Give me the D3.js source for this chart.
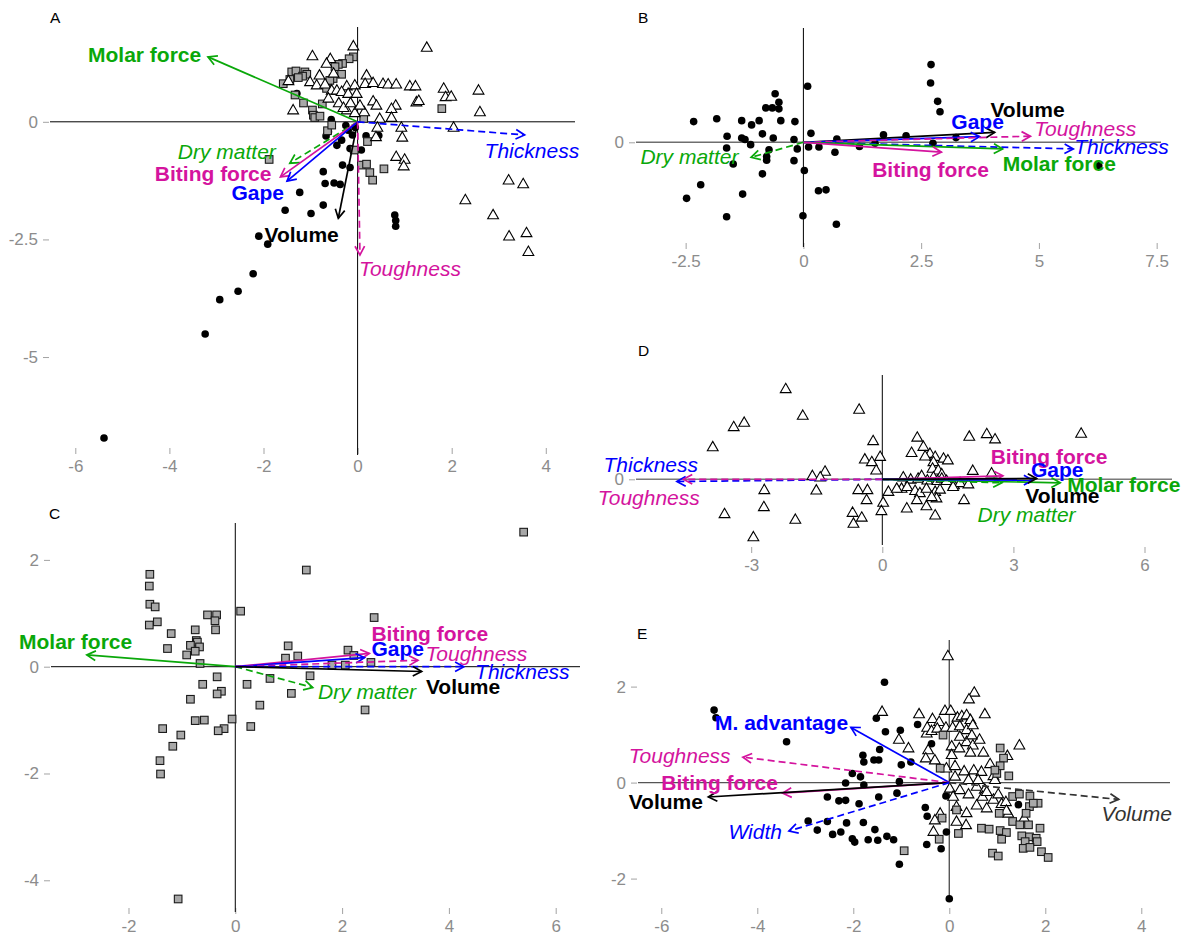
<!DOCTYPE html>
<html><head><meta charset="utf-8">
<script src="https://cdn.jsdelivr.net/npm/d3@7"></script>
<style>
body{margin:0;background:#fff}
svg{display:block}
text{font-family:"Liberation Sans",Arial,Helvetica,sans-serif}
</style>
</head><body>
<svg id="chart" width="1189" height="939"></svg>
<script>
// ---------------- DATA ----------------
// Panel A
const A_circles = [[-5.39,-6.72],[-3.24,-4.51],[-2.93,-3.78],[-2.54,-3.60],[-2.22,-3.23],[-2.10,-2.43],[-1.91,-2.60],[-1.54,-1.88],[-0.99,-1.95],[-0.73,-1.77],[-1.23,-1.50],[-0.73,-1.06],[-0.69,-1.31],[-0.50,-1.30],[-0.37,-1.33],[-0.32,-0.92],[-0.16,-0.97],[-0.44,-0.50],[-0.34,-0.39],[-0.67,-0.30],[-0.62,-0.21],[-0.20,-0.18],[-0.11,-0.28],[-0.16,-0.57],[-0.04,-0.60],[0.08,-0.60],[0.18,-0.30],[0.45,-0.29],[-0.56,0.05],[-1.29,0.60],[0.79,-1.98],[0.81,-2.10],[0.81,-2.22],[-0.05,-0.12],[-0.25,-0.08]];
const A_squares = [[-0.09,1.38],[-0.18,1.34],[-0.32,1.24],[-0.41,1.22],[-0.48,1.17],[-0.34,1.01],[-0.52,0.92],[-1.40,1.06],[-1.31,1.08],[-1.12,1.06],[-1.08,1.01],[-1.17,0.97],[-1.58,0.81],[-1.44,0.90],[-1.26,0.94],[-1.33,0.57],[-1.15,0.40],[-0.96,0.25],[-0.94,0.14],[-0.91,0.09],[-0.80,0.12],[-0.75,0.38],[-0.64,-0.19],[-0.55,-0.07],[0.13,0.07],[0.21,-0.42],[-0.07,-0.60],[0.08,-0.92],[0.19,-0.90],[0.26,-1.08],[0.32,-1.24],[0.56,-1.00],[1.79,0.28],[-1.88,-0.80],[-0.66,0.71],[-0.59,0.88]];
const A_triangles = [[-0.09,1.61],[-0.96,1.40],[-0.58,1.34],[-0.66,1.24],[-0.51,1.03],[-0.81,0.99],[-1.47,0.87],[-1.01,0.85],[-0.87,0.78],[-0.69,0.80],[-0.23,0.76],[-0.06,0.78],[-0.55,0.67],[-0.44,0.67],[-0.34,0.64],[-0.20,0.60],[-0.02,0.60],[0.19,0.99],[0.16,0.81],[0.33,0.83],[0.54,0.81],[0.65,0.80],[0.82,0.80],[1.11,0.76],[1.23,0.76],[-0.62,0.50],[0.33,0.44],[0.40,0.35],[0.81,0.35],[0.72,0.28],[1.25,0.42],[1.30,0.45],[-1.37,0.25],[-0.23,0.25],[0.14,0.21],[-0.06,0.19],[0.47,0.07],[0.72,0.09],[0.42,-0.12],[0.39,-0.32],[0.93,-0.12],[0.95,-0.33],[0.82,-0.74],[1.00,-0.80],[0.98,-0.94],[1.83,0.71],[1.87,0.53],[1.99,0.54],[2.57,0.67],[2.60,0.21],[1.47,1.58],[2.04,-0.12],[2.29,-1.66],[2.88,-1.98],[3.21,-1.24],[3.52,-1.32],[3.22,-2.43],[3.59,-2.36],[3.63,-2.76],[-0.40,0.40],[-0.30,0.30],[-0.15,0.40],[0.05,0.35]];
// arrows: name, group, type (morph = solid/bold, food = dashed/italic), tip x,y, label anchor lx,ly (data units)
const A_arrows = [
  {name:"Molar force", group:"molar", type:"morph", x:-3.18, y:1.38, lx:-5.73, ly:1.42},
  {name:"Dry matter", group:"molar", type:"food", x:-1.44, y:-0.88, lx:-3.82, ly:-0.64},
  {name:"Biting force", group:"biting", type:"morph", x:-1.64, y:-1.17, lx:-4.31, ly:-1.11},
  {name:"Gape", group:"gape", type:"morph", x:-1.50, y:-1.26, lx:-2.68, ly:-1.51},
  {name:"Volume", group:"volume", type:"morph", x:-0.41, y:-2.05, lx:-1.98, ly:-2.39},
  {name:"Toughness", group:"biting", type:"food", x:0.05, y:-2.83, lx:0.03, ly:-3.13},
  {name:"Thickness", group:"gape", type:"food", x:3.55, y:-0.28, lx:2.70, ly:-0.61}
];
const A_xTicks = [-6,-4,-2,0,2,4];
const A_yTicks = [0,-2.5,-5];

// Panel B
const B_circles = [[-2.33,0.44],[-1.84,0.50],[-1.62,0.13],[-1.63,-0.12],[-1.49,-0.46],[-2.18,-0.90],[-2.48,-1.19],[-1.63,-1.58],[-1.29,-1.10],[-1.31,0.46],[-1.10,0.37],[-0.94,0.46],[-1.31,0.09],[-1.24,0.06],[-1.12,-0.05],[-0.87,0.18],[-0.64,0.09],[-0.73,-0.16],[-0.78,-0.30],[-0.78,-0.38],[-0.87,-0.67],[-0.80,0.73],[-0.66,0.73],[-0.52,0.71],[-0.52,0.85],[-0.60,1.03],[-0.48,0.46],[-0.18,0.44],[-0.20,0.06],[-0.13,-0.14],[-0.20,-0.39],[0.02,-0.60],[0.09,1.19],[0.16,0.19],[0.11,-0.10],[0.33,-0.10],[0.67,-0.21],[0.71,0.07],[0.32,-1.03],[0.48,-1.01],[-0.01,-1.56],[0.70,-1.74],[1.19,-0.09],[1.70,0.16],[2.18,0.14],[2.71,1.65],[2.70,1.26],[2.85,0.87],[2.90,0.65],[2.75,-0.02],[3.24,0.10],[1.52,-0.02],[6.27,-0.50]];
const B_arrows = [
  {name:"Volume", group:"volume", type:"morph", x:4.06, y:0.21, lx:3.97, ly:0.69},
  {name:"Gape", group:"gape", type:"morph", x:3.74, y:0.12, lx:3.14, ly:0.44},
  {name:"Toughness", group:"biting", type:"food", x:4.82, y:0.13, lx:4.90, ly:0.30},
  {name:"Thickness", group:"gape", type:"food", x:5.73, y:-0.14, lx:5.75, ly:-0.09},
  {name:"Molar force", group:"molar", type:"morph", x:4.23, y:-0.14, lx:4.23, ly:-0.45},
  {name:"Biting force", group:"biting", type:"morph", x:2.93, y:-0.21, lx:1.46, ly:-0.59},
  {name:"Dry matter", group:"molar", type:"food", x:-1.11, y:-0.32, lx:-3.46, ly:-0.31}
];
const B_xTicks = [-2.5,0,2.5,5,7.5];
const B_yTicks = [0];

// Panel C
const C_squares = [[-1.60,1.73],[-1.61,1.51],[-1.60,1.17],[-1.50,1.12],[-1.61,0.78],[-1.46,0.84],[-1.20,0.62],[-1.27,0.34],[-0.91,0.22],[-0.75,0.69],[-0.73,0.49],[-0.71,0.46],[-0.67,0.37],[-0.84,0.40],[-0.75,0.29],[-0.52,0.97],[-0.35,0.97],[-0.38,0.86],[-0.37,0.69],[-0.66,0.06],[-0.34,-0.19],[-0.61,-0.33],[-0.26,-0.46],[-0.34,-0.51],[-0.84,-0.61],[-0.75,-1.01],[-0.58,-1.00],[-0.06,-0.98],[-0.21,-1.16],[-0.32,-1.20],[-1.36,-1.16],[-1.02,-1.28],[-1.17,-1.49],[-1.41,-1.76],[-1.40,-2.01],[-1.07,-4.35],[0.10,1.04],[0.22,-0.33],[0.46,-0.72],[0.29,-1.12],[0.65,-0.22],[0.99,0.39],[0.94,0.16],[1.17,0.20],[1.40,-0.17],[1.05,-0.50],[1.33,1.81],[5.40,2.52],[2.60,0.92],[2.11,0.31],[2.43,-0.81],[1.81,0.03],[2.06,0.03],[2.54,0.08],[2.22,0.21]];
const C_arrows = [
  {name:"Molar force", group:"molar", type:"morph", x:-2.78, y:0.22, lx:-4.05, ly:0.47},
  {name:"Dry matter", group:"molar", type:"food", x:1.45, y:-0.39, lx:1.55, ly:-0.47},
  {name:"Biting force", group:"biting", type:"morph", x:2.51, y:0.25, lx:2.55, ly:0.61},
  {name:"Gape", group:"gape", type:"morph", x:2.42, y:0.17, lx:2.55, ly:0.33},
  {name:"Toughness", group:"biting", type:"food", x:3.42, y:0.12, lx:3.56, ly:0.24},
  {name:"Thickness", group:"gape", type:"food", x:4.28, y:0.0, lx:4.49, ly:-0.09},
  {name:"Volume", group:"volume", type:"morph", x:3.49, y:-0.09, lx:3.57, ly:-0.37}
];
const C_xTicks = [-2,0,2,4,6];
const C_yTicks = [2,0,-2,-4];

// Panel D
const D_triangles = [[-2.21,2.07],[-1.82,1.46],[-3.40,1.20],[-3.16,1.30],[-3.88,0.74],[-0.53,1.60],[4.55,1.05],[-1.60,0.08],[-1.31,0.18],[-1.42,0.05],[-2.70,-0.24],[-2.71,-0.63],[-1.51,-0.25],[-3.61,-0.79],[-1.99,-0.92],[-2.95,-1.32],[-0.68,-0.76],[-0.66,-1.01],[-0.21,0.88],[-0.40,0.46],[-0.24,0.40],[-0.05,0.52],[-0.14,0.21],[-0.55,-0.24],[-0.34,-0.24],[-0.36,-0.47],[-0.47,-0.87],[0.14,-0.28],[0.02,-0.53],[-0.02,-0.72],[0.80,0.96],[0.94,0.75],[0.67,0.61],[1.09,0.59],[1.21,0.52],[0.98,0.53],[1.40,0.48],[1.50,0.44],[1.17,0.40],[1.15,0.25],[1.28,0.21],[1.36,0.12],[1.99,0.98],[2.39,1.04],[2.58,0.92],[2.07,0.20],[2.50,0.14],[0.48,0.05],[0.65,0.0],[0.82,0.02],[0.90,0.08],[1.03,-0.02],[1.17,0.05],[1.26,-0.03],[1.36,0.02],[1.47,-0.03],[1.64,-0.13],[1.78,-0.08],[1.97,-0.11],[0.44,-0.21],[0.57,-0.17],[0.75,-0.26],[0.86,-0.31],[1.01,-0.21],[1.21,-0.28],[1.32,-0.23],[1.62,-0.17],[1.87,-0.47],[0.56,-0.66],[0.79,-0.47],[1.01,-0.61],[1.21,-0.82],[1.24,-0.43],[1.13,-0.40],[0.33,-0.21]];
const D_arrows = [
  {name:"Thickness", group:"gape", type:"food", x:-4.70, y:-0.05, lx:-6.38, ly:0.33},
  {name:"Toughness", group:"biting", type:"food", x:-4.55, y:0.0, lx:-6.51, ly:-0.43},
  {name:"Dry matter", group:"molar", type:"food", x:2.74, y:-0.08, lx:2.18, ly:-0.80},
  {name:"Biting force", group:"biting", type:"morph", x:2.76, y:0.08, lx:2.48, ly:0.53},
  {name:"Molar force", group:"molar", type:"morph", x:4.07, y:-0.08, lx:4.23, ly:-0.13},
  {name:"Gape", group:"gape", type:"morph", x:3.44, y:-0.02, lx:3.40, ly:0.21},
  {name:"Volume", group:"volume", type:"morph", x:3.53, y:0.02, lx:3.27, ly:-0.38}
];
const D_xTicks = [-3,0,3,6];
const D_yTicks = [0];

// Panel E
const E_circles = [[-1.35,2.09],[-1.52,1.34],[-1.33,1.06],[-1.02,1.09],[-0.66,1.21],[-1.45,0.69],[-1.80,0.57],[-1.78,0.43],[-1.57,0.47],[-1.47,0.47],[-1.00,0.37],[-0.80,0.43],[-0.37,0.81],[-2.02,0.19],[-1.85,0.12],[-2.16,-0.01],[-1.78,-0.05],[-1.04,0.02],[-1.09,-0.22],[-1.47,-0.30],[-1.88,-0.44],[-2.54,-0.30],[-2.30,-0.38],[-2.16,-0.37],[-2.54,-0.81],[-2.14,-0.84],[-1.79,-0.83],[-1.55,-0.98],[-2.43,-1.08],[-2.26,-1.03],[-2.02,-1.17],[-1.97,-1.24],[-1.69,-1.19],[-1.49,-1.20],[-1.30,-1.12],[-1.16,-1.19],[-1.04,-1.70],[-0.50,-0.52],[-0.46,-0.70],[-0.47,-1.29],[-0.17,-1.38],[-0.07,-0.28],[-0.06,-1.03],[1.44,-0.46],[-4.90,1.51],[-4.86,1.35],[-3.39,0.85],[-2.94,-0.80],[-2.75,-0.99],[0.0,-2.42]];
const E_triangles = [[-0.03,2.64],[0.52,1.88],[0.41,1.74],[-1.40,1.48],[-1.05,0.90],[-0.85,0.72],[-0.63,1.43],[-0.47,1.03],[-0.35,1.33],[-0.21,1.27],[-0.09,1.50],[0.03,1.50],[0.17,1.36],[0.26,1.39],[0.36,1.41],[0.44,1.31],[0.74,1.43],[-0.46,1.15],[-0.37,1.08],[-0.25,1.13],[-0.07,1.15],[0.07,1.15],[0.22,1.18],[0.36,1.10],[0.49,1.20],[0.05,0.76],[0.21,0.72],[0.36,0.85],[0.49,0.78],[0.63,0.90],[0.44,0.63],[0.71,0.63],[1.46,0.78],[1.21,0.56],[-0.44,0.68],[-0.49,0.51],[-0.30,0.47],[-0.06,0.30],[0.12,0.35],[0.31,0.24],[0.51,0.26],[0.67,0.23],[0.85,0.39],[0.92,0.14],[0.01,-0.12],[0.22,-0.15],[0.08,-0.29],[0.40,-0.24],[0.57,-0.08],[0.74,-0.14],[0.69,-0.29],[0.92,-0.35],[1.09,-0.44],[1.18,-0.40],[0.15,-0.50],[0.36,-0.63],[0.57,-0.47],[0.78,-0.53],[1.23,-0.64],[1.56,-0.74],[-0.19,-0.64],[-0.30,-0.78],[-0.33,-1.02],[0.15,-0.81],[0.35,-0.88],[0.95,0.06],[0.12,0.13],[0.40,0.06],[0.60,0.06],[1.19,-0.58],[0.78,-0.19],[1.02,-0.24],[0.05,0.58],[0.22,0.96],[0.47,0.99]];
const E_squares = [[-0.13,0.99],[-0.19,0.30],[1.06,0.72],[1.13,0.51],[1.06,0.35],[0.99,0.19],[1.24,0.14],[0.95,0.26],[1.32,-0.29],[1.46,-0.24],[1.68,-0.28],[1.85,-0.43],[1.67,-0.50],[1.60,-0.64],[1.04,-0.64],[1.32,-0.81],[0.67,-0.95],[0.83,-0.97],[1.06,-1.00],[1.19,-1.04],[1.09,-1.18],[1.47,-0.88],[1.65,-0.88],[1.89,-0.95],[1.51,-1.11],[1.67,-1.13],[1.81,-1.16],[1.58,-1.23],[1.83,-1.23],[1.54,-1.37],[1.68,-1.35],[0.90,-1.47],[1.02,-1.53],[1.92,-1.44],[2.06,-1.56],[0.19,-1.06],[-0.21,-1.18],[-0.15,-0.74],[-0.94,-1.42],[0.15,-0.57],[1.75,-0.43]];
const E_arrows = [
  {name:"M. advantage", group:"gape", type:"morph", x:-2.05, y:1.15, lx:-4.88, ly:1.24},
  {name:"Toughness", group:"biting", type:"food", x:-4.30, y:0.53, lx:-6.68, ly:0.56},
  {name:"Biting force", group:"biting", type:"morph", x:-3.47, y:-0.22, lx:-6.00, ly:0.0},
  {name:"Volume", group:"volume", type:"morph", x:-5.02, y:-0.30, lx:-6.68, ly:-0.40},
  {name:"Width", group:"gape", type:"food", x:-3.34, y:-1.01, lx:-4.60, ly:-1.02},
  {name:"Volume", group:"volumeFood", type:"food", x:3.53, y:-0.35, lx:3.17, ly:-0.64}
];
const E_xTicks = [-6,-4,-2,0,2,4];
const E_yTicks = [2,0,-2];

// ---------------- STYLE / LAYOUT ----------------
const COLORS = {molar:"#0aa80a", biting:"#d4149e", gape:"#0000ff", volume:"#000000", volumeFood:"#333333"};

const panels = [
  {letter:"A", lp:[50,23], box:{l:50,r:575,t:27,b:455}, xDom:[-6.538,4.621], yDom:[-7.082,2.015], tickTop:448,
   xTicks:A_xTicks, yTicks:A_yTicks, hLine:["#000",1], vLine:["#000",1],
   layers:[["circle",A_circles],["square",A_squares],["triangle",A_triangles]], arrows:A_arrows},
  {letter:"B", lp:[638,23], box:{l:636,r:1161,t:28,b:247}, xDom:[-3.554,7.592], yDom:[-2.223,2.427], tickTop:243,
   xTicks:B_xTicks, yTicks:B_yTicks, hLine:["#6e6e6e",1.6], vLine:["#000",1],
   layers:[["circle",B_circles]], arrows:B_arrows},
  {letter:"C", lp:[49,519], box:{l:51,r:580,t:523,b:912}, xDom:[-3.451,6.455], yDom:[-4.594,2.691], tickTop:908,
   xTicks:C_xTicks, yTicks:C_yTicks, hLine:["#000",1], vLine:["#000",1],
   layers:[["square",C_squares]], arrows:C_arrows},
  {letter:"D", lp:[638,356], box:{l:636,r:1172,t:375,b:545}, xDom:[-5.636,6.629], yDom:[-1.503,2.387], tickTop:547,
   xTicks:D_xTicks, yTicks:D_yTicks, hLine:["#7a7a7a",1.6], vLine:["#000",1],
   layers:[["triangle",D_triangles]], arrows:D_arrows},
  {letter:"E", lp:[637,639], box:{l:638,r:1170,t:640,b:902}, xDom:[-6.485,4.598], yDom:[-2.488,2.971], tickTop:908,
   xTicks:E_xTicks, yTicks:E_yTicks, hLine:["#555",1.4], vLine:["#555",1.4],
   layers:[["circle",E_circles],["triangle",E_triangles],["square",E_squares]], arrows:E_arrows}
];

const svg = d3.select("#chart");
svg.append("rect").attr("width",1189).attr("height",939).attr("fill","#fff");

function drawPanel(P){
  const g = svg.append("g");
  const x = d3.scaleLinear().domain(P.xDom).range([P.box.l, P.box.r]);
  const y = d3.scaleLinear().domain(P.yDom).range([P.box.b, P.box.t]);

  // axes (ticks + labels only)
  const ax = g.append("g").attr("transform",`translate(0,${P.tickTop})`)
    .call(d3.axisBottom(x).tickValues(P.xTicks).tickSize(6).tickPadding(6).tickFormat(d=>String(d)));
  const ay = g.append("g").attr("transform",`translate(${P.box.l-1},0)`)
    .call(d3.axisLeft(y).tickValues(P.yTicks).tickSize(6).tickPadding(5).tickFormat(d=>String(d)));
  [ax,ay].forEach(a=>{
    a.select(".domain").remove();
    a.attr("font-family",null).attr("font-size",null);
    a.selectAll(".tick line").attr("stroke","#a3a3a3").attr("stroke-width",1);
    a.selectAll(".tick text").attr("fill","#8c8c8c").style("font-size","17px")
      .style("font-family",'"Liberation Sans",Arial,sans-serif');
  });

  // zero lines
  g.append("line").attr("x1",P.box.l).attr("x2",P.box.r).attr("y1",y(0)).attr("y2",y(0))
    .attr("stroke",P.hLine[0]).attr("stroke-width",P.hLine[1]);
  g.append("line").attr("x1",x(0)).attr("x2",x(0)).attr("y1",P.box.t).attr("y2",P.box.b)
    .attr("stroke",P.vLine[0]).attr("stroke-width",P.vLine[1]);

  // points
  P.layers.forEach(([shape,data])=>{
    const lg = g.append("g");
    if(shape==="circle"){
      lg.selectAll("circle").data(data).join("circle")
        .attr("cx",d=>x(d[0])).attr("cy",d=>y(d[1])).attr("r",3.8).attr("fill","#000");
    } else if(shape==="square"){
      lg.selectAll("rect").data(data).join("rect")
        .attr("x",d=>x(d[0])-3.8).attr("y",d=>y(d[1])-3.8).attr("width",7.6).attr("height",7.6)
        .attr("fill","#a8a8a8").attr("stroke","#1a1a1a").attr("stroke-width",1.1);
    } else {
      lg.selectAll("path").data(data).join("path")
        .attr("d",d=>{const cx=x(d[0]), cy=y(d[1]);
          return `M${cx},${cy-5.6}L${cx+5.4},${cy+3.8}L${cx-5.4},${cy+3.8}Z`;})
        .attr("fill","#fff").attr("stroke","#000").attr("stroke-width",1.1);
    }
  });

  // arrows
  const arrG = g.append("g");
  P.arrows.forEach(a=>{
    const col = COLORS[a.group];
    const x0 = x(0), y0 = y(0), x1 = x(a.x), y1 = y(a.y);
    const dashed = a.type==="food";
    arrG.append("line").attr("x1",x0).attr("y1",y0).attr("x2",x1).attr("y2",y1)
      .attr("stroke",col).attr("stroke-width",1.7)
      .attr("stroke-dasharray",dashed?"7,4":null);
    const ang = Math.atan2(y1-y0, x1-x0);
    const L = 10, w = 0.5;
    const p1 = [x1 - L*Math.cos(ang-w), y1 - L*Math.sin(ang-w)];
    const p2 = [x1 - L*Math.cos(ang+w), y1 - L*Math.sin(ang+w)];
    arrG.append("path").attr("d",`M${p1[0]},${p1[1]}L${x1},${y1}L${p2[0]},${p2[1]}`)
      .attr("fill","none").attr("stroke",col).attr("stroke-width",1.7);
  });
  // labels
  const labG = g.append("g");
  P.arrows.forEach(a=>{
    const col = COLORS[a.group];
    labG.append("text").attr("x",x(a.lx)).attr("y",y(a.ly)).attr("dy","0.35em")
      .attr("fill",col).style("font-size","21px")
      .style("font-weight",a.type==="morph"?"bold":"normal")
      .style("font-style",a.type==="food"?"italic":"normal")
      .text(a.name);
  });

  // panel letter
  g.append("text").attr("x",P.lp[0]).attr("y",P.lp[1]).attr("fill","#000")
    .style("font-size","15.5px").text(P.letter);
}

panels.forEach(drawPanel);
</script>
</body></html>
